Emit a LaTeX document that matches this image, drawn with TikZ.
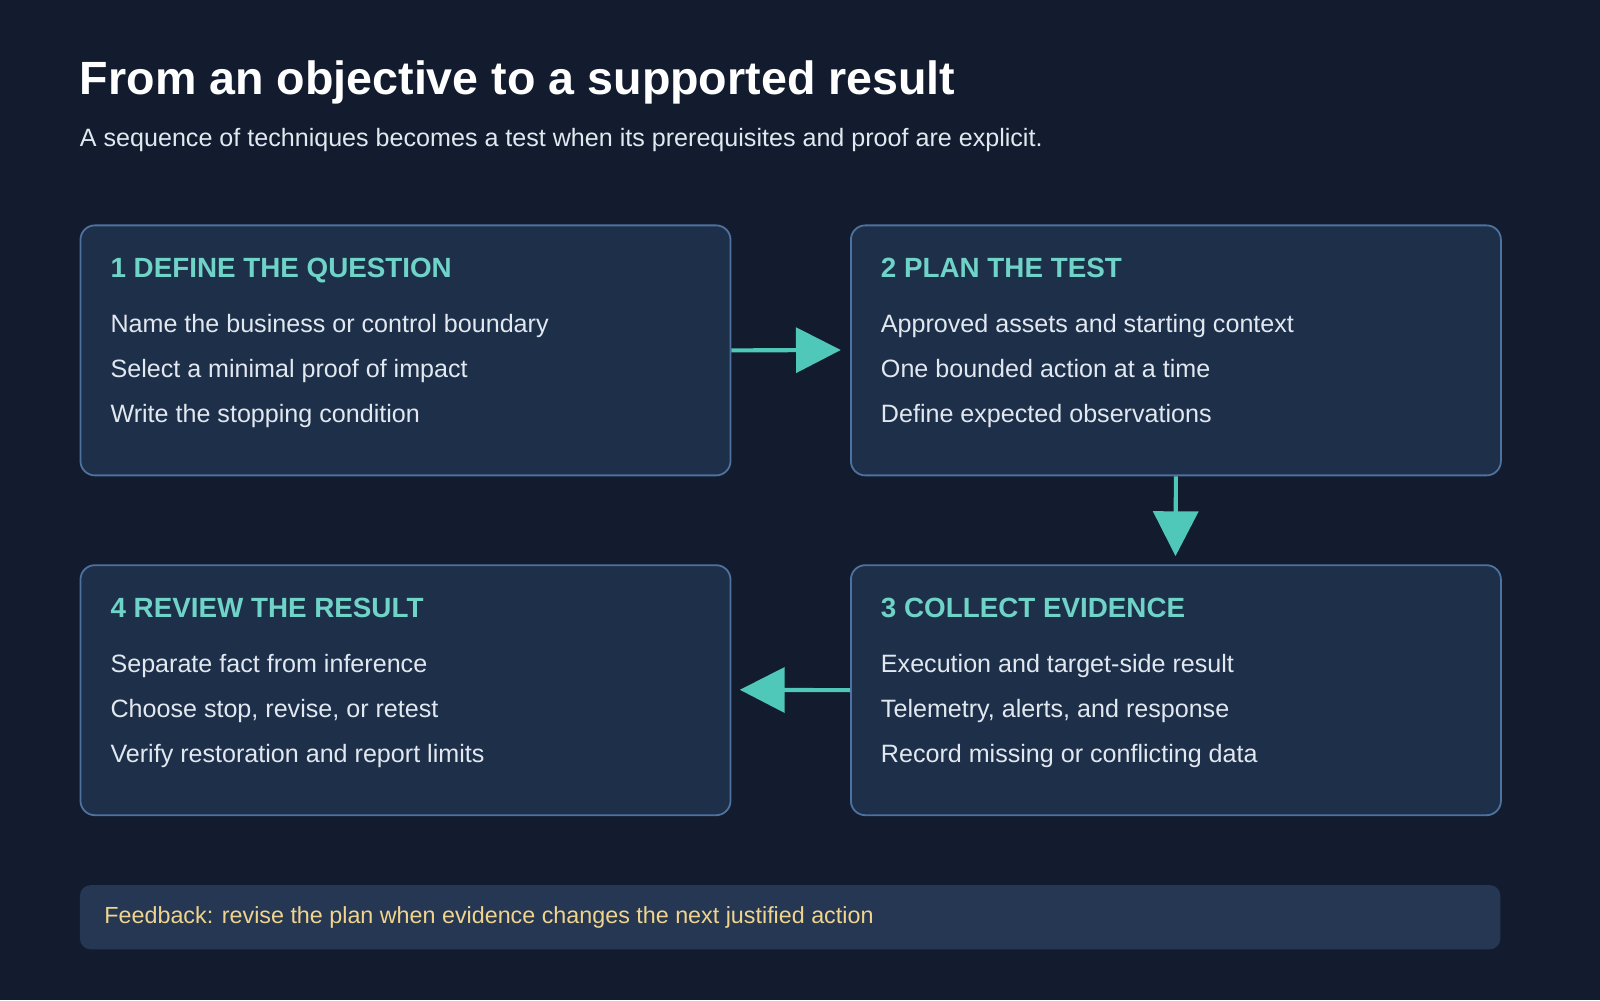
\documentclass[tikz,border=0pt]{standalone}
\usepackage{fontspec}
\setmainfont{Liberation Sans}
\usetikzlibrary{arrows.meta,calc,positioning}
\definecolor{bgcol}{HTML}{121C2E}
\definecolor{boxfill}{HTML}{1E3049}
\definecolor{boxline}{HTML}{4D72A0}
\definecolor{headcol}{HTML}{6FD3C8}
\definecolor{bodycol}{HTML}{E2E8F0}
\definecolor{barfill}{HTML}{253752}
\definecolor{notecol}{HTML}{F0D48E}
\definecolor{flowcol}{HTML}{4FC7B9}
\tikzset{
  stage/.style={draw=boxline, line width=1pt, fill=boxfill, rounded corners=8pt,
    minimum width=637*0.02cm, minimum height=245*0.02cm, anchor=north west, inner sep=0pt},
  head/.style={anchor=base west, text=headcol, font=\fontsize{15.5}{18}\selectfont\bfseries, inner sep=0pt},
  item/.style={anchor=base west, text=bodycol, font=\fontsize{14}{17}\selectfont, inner sep=0pt},
  flow/.style={draw=flowcol, line width=2.3pt, -{Triangle[width=25pt,length=25pt]}}
}
\begin{document}
\begin{tikzpicture}[x=0.02cm,y=-0.02cm]
\fill[bgcol] (0,0) rectangle (1568,980);
\useasboundingbox (0,0) rectangle (1568,980);
% title
\node[anchor=base west, text=white, font=\fontsize{26}{30}\selectfont\bfseries, inner sep=0pt] (title) at (78,93) {From an objective to a supported result};
\node[anchor=base west, text=bodycol, font=\fontsize{14}{17}\selectfont, inner sep=0pt] (sub) at (78,144) {A sequence of techniques becomes a test when its prerequisites and proof are explicit.};
% stages
\node[stage] (s1) at (78,220) {};
\node[stage] (s2) at (833,220) {};
\node[stage] (s3) at (833,553) {};
\node[stage] (s4) at (78,553) {};
\foreach \b/\h/\i/\j/\k in {
  s1/1 DEFINE THE QUESTION/Name the business or control boundary/Select a minimal proof of impact/Write the stopping condition,
  s2/2 PLAN THE TEST/Approved assets and starting context/One bounded action at a time/Define expected observations,
  s3/3 COLLECT EVIDENCE/Execution and target-side result/Telemetry{,} alerts{,} and response/Record missing or conflicting data,
  s4/4 REVIEW THE RESULT/Separate fact from inference/Choose stop{,} revise{,} or retest/Verify restoration and report limits}{
  \node[head] at ($(\b.north west)+(30,52)$) {\h};
  \node[item] at ($(\b.north west)+(30,106)$) {\i};
  \node[item] at ($(\b.north west)+(30,150)$) {\j};
  \node[item] at ($(\b.north west)+(30,194)$) {\k};
}
% connectors
\coordinate (a1) at (824,343);
\coordinate (a2) at (1152,545);
\coordinate (a3) at (725,676);
\draw[flow] (s1.east) -- (a1);
\draw[flow] (s2.south) -- (a2);
\draw[flow] (s3.west) -- (a3);
% feedback
\node[fill=barfill, rounded corners=6pt, minimum width=1392*0.02cm, minimum height=63*0.02cm, anchor=north west, inner sep=0pt] (bar) at (78,867) {};
\node[anchor=west, text=notecol, font=\fontsize{13}{16}\selectfont, inner sep=0pt] (note) at ($(bar.west)+(24,0)$) {Feedback: revise the plan when evidence changes the next justified action};
\end{tikzpicture}
\end{document}
